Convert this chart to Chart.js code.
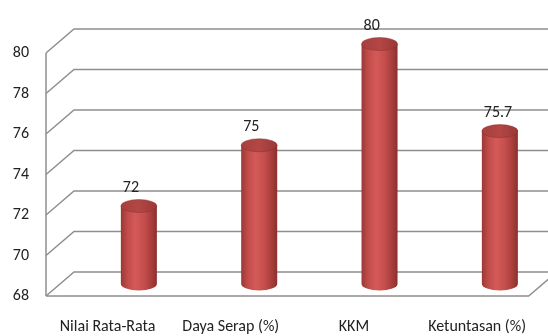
<!DOCTYPE html>
<html>
<head>
<meta charset="utf-8">
<script src="https://cdn.jsdelivr.net/npm/chart.js@4.4.1/dist/chart.umd.min.js"></script>
<style>
html,body{margin:0;padding:0;background:#fff;}
#wrap{position:relative;width:548px;height:336px;}
</style>
</head>
<body>
<div id="wrap"><canvas id="c" width="548" height="336"></canvas></div>
<script>
// kategori & nilai
const CATS=['Nilai Rata-Rata','Daya Serap (%)','KKM','Ketuntasan (%)'];
const VALS=[72,75,80,75.7];
const Y_MIN=68, Y_MAX=80, Y_STEP=2;

const FONT="Carlito, Lato, 'Open Sans', sans-serif";
const DEPTH_X=28, DEPTH_Y=-24;   // geser dinding belakang
const GRID_CLR='#8f8f8f';

// dinding, gridline dan lantai 3D
const walls={
  id:'walls',
  beforeDatasetsDraw(ch){
    const {ctx,chartArea:a,scales:{y}}=ch;
    ctx.save();
    ctx.strokeStyle=GRID_CLR;ctx.lineWidth=1.5;ctx.lineJoin='miter';
    for(let v=Y_MIN;v<=Y_MAX;v+=Y_STEP){
      const yf=y.getPixelForValue(v);
      ctx.beginPath();
      ctx.moveTo(a.left,yf);
      ctx.lineTo(a.left+DEPTH_X,yf+DEPTH_Y);
      ctx.lineTo(ch.width+2,yf+DEPTH_Y);
      ctx.stroke();
    }
    // sumbu kiri
    ctx.beginPath();
    ctx.moveTo(a.left,y.getPixelForValue(Y_MAX));
    ctx.lineTo(a.left,y.getPixelForValue(Y_MIN));
    ctx.stroke();
    // tepi depan lantai
    const yb=y.getPixelForValue(Y_MIN), fr=a.right-10;
    ctx.beginPath();
    ctx.moveTo(a.left,yb);
    ctx.lineTo(fr,yb);
    ctx.lineTo(fr+DEPTH_X,yb+DEPTH_Y);
    ctx.stroke();
    ctx.restore();
  }
};

// batang silinder + label nilai
const cylinders={
  id:'cylinders',
  afterDatasetsDraw(ch){
    const {ctx,chartArea:a,scales:{y}}=ch;
    const meta=ch.getDatasetMeta(0);
    const rx=18, ry=6.5;
    const floor=y.getPixelForValue(Y_MIN);
    ctx.save();
    meta.data.forEach((bar,i)=>{
      const cx=a.left+32.7+(bar.x-a.left)*0.977;
      const top=bar.y-9, bot=floor-12;
      const g=ctx.createLinearGradient(cx-rx,0,cx+rx,0);
      g.addColorStop(0,'#9c3735');
      g.addColorStop(0.18,'#c04c4a');
      g.addColorStop(0.4,'#d45a58');
      g.addColorStop(0.65,'#c44e4c');
      g.addColorStop(0.88,'#a33b39');
      g.addColorStop(1,'#8a2f2e');
      ctx.beginPath();
      ctx.moveTo(cx-rx,top);
      ctx.lineTo(cx-rx,bot);
      ctx.ellipse(cx,bot,rx,ry,0,Math.PI,0,true);
      ctx.lineTo(cx+rx,top);
      ctx.closePath();
      ctx.fillStyle=g;ctx.fill();
      // tutup atas
      const tg=ctx.createLinearGradient(cx-rx,0,cx+rx,0);
      tg.addColorStop(0,'#a8403e');
      tg.addColorStop(0.5,'#b24745');
      tg.addColorStop(1,'#9a3836');
      ctx.beginPath();
      ctx.ellipse(cx,top,rx,ry,0,0,Math.PI*2);
      ctx.fillStyle=tg;ctx.fill();
      ctx.strokeStyle='rgba(140,45,44,0.6)';ctx.lineWidth=0.8;ctx.stroke();
      // label
      ctx.fillStyle='#222';
      ctx.font='16px '+FONT;
      ctx.textAlign='left';ctx.textBaseline='middle';
      ctx.fillText(String(VALS[i]),cx-rx+2,top-ry-12);
    });
    ctx.restore();
  }
};

new Chart(document.getElementById('c'),{
  type:'bar',
  data:{labels:CATS,datasets:[{data:VALS,backgroundColor:'rgba(0,0,0,0)',borderWidth:0}]},
  options:{
    responsive:false,animation:false,
    layout:{padding:{top:53,right:8,left:0,bottom:0}},
    plugins:{legend:{display:false},tooltip:{enabled:false}},
    scales:{
      x:{
        grid:{display:false,drawTicks:false},border:{display:false},
        ticks:{color:'#222',font:{family:FONT,size:16},padding:21,maxRotation:0,autoSkip:false},
        afterFit:s=>{s.height=40;}
      },
      y:{
        min:Y_MIN,max:Y_MAX,
        grid:{display:false,drawTicks:false},border:{display:false},
        ticks:{stepSize:Y_STEP,color:'#222',font:{family:FONT,size:16},padding:17},
        afterFit:s=>{s.width=46;}
      }
    }
  },
  plugins:[walls,cylinders]
});
</script>
</body>
</html>
